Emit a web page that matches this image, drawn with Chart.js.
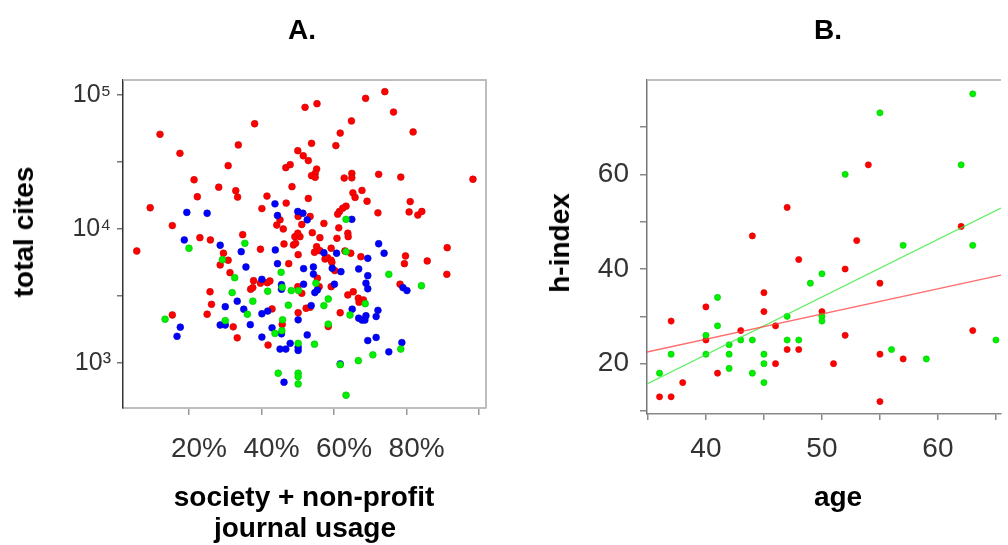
<!DOCTYPE html>
<html>
<head>
<meta charset="utf-8">
<script src="https://cdn.jsdelivr.net/npm/chart.js@4.4.1/dist/chart.umd.min.js"></script>
<style>
  html, body { margin:0; padding:0; background:#fff; overflow:hidden; }
  body { width:1008px; height:545px; position:relative; font-family:"Liberation Sans", Arial, sans-serif; }
  canvas { position:absolute; top:0; }
  #chartA { left:0; }
  #chartB { left:500px; }
  .lbl { position:absolute; font-weight:bold; font-size:28px; line-height:28px; color:#000; white-space:nowrap; transform:translate(-50%,-50%); }
  .rot { transform:translate(-50%,-50%) rotate(-90deg); }
</style>
</head>
<body>
<canvas id="chartA" width="500" height="545"></canvas>
<canvas id="chartB" width="508" height="545"></canvas>
<div class="lbl" style="left:302px;top:30px">A.</div>
<div class="lbl" style="left:828px;top:30px">B.</div>
<div class="lbl rot" style="left:24px;top:232px">total cites</div>
<div class="lbl" style="left:304px;top:497px">society + non-profit</div>
<div class="lbl" style="left:305px;top:528px">journal usage</div>
<div class="lbl rot" style="left:560px;top:243px">h-index</div>
<div class="lbl" style="left:838px;top:497px">age</div>
<script>
// panel A: society + non-profit usage (%) vs total cites, three groups
let usageRed = [52.0,12.0,38.1,17.5,33.6,50.0,51.5,52.9,30.8,46.7,47.9,21.4,28.2,32.9,33.4,22.3,48.4,41.5,52.9,9.3,
    40.1,46.8,15.4,44.2,45.1,46.0,51.1,50.1,34.8,23.0,25.9,49.2,50.6,50.0,74.0,68.7,55.3,76.4,64.8,81.8,
    61.7,53.8,60.5,55.2,54.8,53.8,54.8,62.8,64.9,64.9,72.3,78.4,98.3,67.7,65.2,65.8,69.1,81.0,72.1,80.7,
    83.1,84.2,63.3,62.4,61.5,61.0,53.4,57.2,61.3,54.0,56.1,60.8,63.8,63.9,5.6,29.5,30.8,28.6,31.3,39.7,
    46.2,48.8,49.4,50.1,47.5,37.8,37.0,37.6,39.7,41.6,42.3,50.0,51.1,25.8,26.2,15.4,25.0,42.9,45.7,50.1,
    52.3,32.2,33.3,41.8,55.2,54.6,56.1,57.5,58.2,59.2,59.4,59.2,60.2,63.0,64.6,67.4,79.7,79.4,85.7,91.2,
    91.1,78.2,55.4,55.9,59.2,65.3,63.8,66.7,67.4,68.1,66.9,53.4,61.7,58.4],
    citesRed = [80900,50900,61000,36700,42400,38400,35200,32400,29700,28700,30200,23300,20500,19300,17300,17400,20700,17600,16900,14400,
    14200,15600,10600,10700,11700,10000,10800,12400,9070,8610,8280,8760,8760,9290,105900,94400,86100,74600,64000,53000,
    52000,43600,41900,28000,26000,25000,24300,24000,26000,24100,25600,24400,23500,19400,18600,17200,16100,16000,13200,13400,
    12700,13500,14800,14300,13500,12900,12400,11000,10200,9380,8610,8520,9290,8760,6850,6590,5840,5390,4720,7060,
    7730,7600,7820,6430,5510,4110,3550,3650,3940,3970,4090,3710,3310,3400,2740,2280,2310,2530,1940,2370,
    2560,1860,1540,1360,7380,6700,6890,5970,6110,5840,5640,7180,4890,6850,6590,6210,6290,5510,5770,7250,
    4590,3870,4290,3710,3710,3400,3220,3040,2900,2950,2840,2600,2370,1870],
    usageBlue = [19.4,25.0,43.7,44.4,50.0,51.4,52.6,18.7,64.9,28.6,34.4,43.8,44.4,35.7,51.6,40.1,45.5,45.5,51.6,33.3,
    30.0,35.1,40.1,41.7,50.1,17.6,16.7,28.6,30.0,36.9,42.9,45.5,40.1,52.6,47.9,45.1,46.7,50.1,50.1,46.2,
    72.3,73.8,60.7,57.2,69.3,54.3,54.3,59.5,61.9,66.8,69.3,55.4,54.7,60.1,68.8,69.3,79.0,80.1,53.7,65.0,
    72.1,66.8,67.7,68.5,68.8,71.6,71.6,69.3,78.7,75.1,61.7],
    citesBlue = [13300,13100,15400,12600,13500,13100,11700,8280,11800,7560,6770,6970,5510,5200,5060,4210,3840,3550,3870,2890,
    2630,2520,2330,2440,2100,1850,1580,1920,1920,1930,1830,1650,1560,1620,1400,1270,1270,1310,1240,718,
    7760,6590,6590,6650,6040,5200,4610,5090,4800,5030,4480,3510,3350,3870,3940,3580,3650,3470,2680,2520,
    2470,2160,2090,2090,2250,2220,1550,1470,1420,1210,984],
    usageGreen = [63.3,20.0,35.4,29.2,32.6,45.4,45.7,48.2,50.2,31.9,41.7,37.6,36.1,47.4,30.0,13.4,45.8,45.6,43.7,50.1,
    44.6,50.1,50.1,50.1,63.3,55.0,58.4,57.2,68.6,64.4,75.1,84.1,58.4,54.6,78.4,70.7,66.7,61.7,63.3],
    citesGreen = [11800,7180,7820,5900,4330,4750,3670,3470,3470,3350,3430,2890,2310,2700,2070,2120,2100,1740,1660,1400,
    838,838,790,697,6770,3940,3000,2680,2770,2280,4590,3770,1950,1380,1270,1150,1040,970,574],
    usageTicks = [20,40,60,80,100],
    usageTickLabels = ["20%","40%","60%","80%",""],
    citesTicks = [1000,3162,10000,31623,100000],
    citesTickLabels = ["10\u00b3","","10\u2074","","10\u2075"]

// panel B: age vs h-index, with fitted lines (intercept, slope)
let ageRed = [47,44,54,62,53,48,45,40,45,50,37,46,43,40,47,48,46,41,38,36,37,52,55,52,63,55,57,51,55],
    hRed = [53,47,62,49,46,42,35,32,31,31,29,28,27,25,23,23,20,18,16,13,13,40,37,26,27,22,21,20,12],
    ageGreen = [63,55,52,62,50,49,41,47,50,50,41,40,43,44,47,48,42,37,40,42,45,45,42,36,44,45,57,63,65,56,59],
    hGreen = [77,73,60,62,39,37,34,30,30,29,28,26,25,25,25,25,24,22,22,22,22,20,19,18,18,16,45,45,25,23,21],
    fitRed = [3.87, 0.5326],
    fitGreen = [-26.83, 1.218],
    ageTicks = [35,40,45,50,55,60,65],
    ageTickLabels = ["","40","","50","","60",""],
    hTicks = [10,20,30,40,50,60,70],
    hTickLabels = ["","20","","40","","60",""]

const ageMin = 34.92, ageMax = 65.43

Chart.defaults.font.family = "'Liberation Sans', Arial, sans-serif"
Chart.defaults.color = "#333"

const pts = (xs, ys) => xs.map((x, i) => ({x: x, y: ys[i]}))
const fitLine = (f) => [ageMin, ageMax].map(x => ({x: x, y: f[0] + f[1] * x}))

// light box on top / right like the R plot
const boxLines = {
    id: "boxLines",
    beforeDatasetsDraw(chart, args, opts) {
        const {ctx, chartArea: a} = chart
        ctx.save()
        ctx.strokeStyle = opts.color
        ctx.lineWidth = 2
        ctx.beginPath()
        ctx.moveTo(a.left, a.top)
        ctx.lineTo(a.right, a.top)
        if (opts.right) ctx.lineTo(a.right, a.bottom)
        ctx.stroke()
        ctx.restore()
    }
}

const dot = (c, edge, order, r) => ({
    backgroundColor: c, borderColor: edge, borderWidth: 0.6,
    pointRadius: r, pointHoverRadius: r, order: order
})

new Chart(document.getElementById("chartA"), {
    type: "scatter",
    plugins: [boxLines],
    data: {
        datasets: [
            {data: pts(usageRed, citesRed), ...dot("#ff0000", "#c80000", 3, 3.4)},
            {data: pts(usageBlue, citesBlue), ...dot("#0000ff", "#0000c0", 2, 3.4)},
            {data: pts(usageGreen, citesGreen), ...dot("#00f000", "#00c000", 1, 3.4)}
        ]
    },
    options: {
        responsive: false,
        animation: false,
        layout: {padding: {top: 80, right: 14, left: 0, bottom: 0}},
        plugins: {legend: {display: false}, tooltip: {enabled: false}, boxLines: {color: "#bdbdbd", right: true}},
        scales: {
            x: {
                type: "linear", min: 1.8, max: 101.9,
                afterFit: s => { s.height = 137 },
                afterBuildTicks: s => { s.ticks = usageTicks.map(v => ({value: v})) },
                ticks: {callback: (v, i) => usageTickLabels[i], font: {size: 28}, color: "#333",
                        padding: 17, labelOffset: 10, autoSkip: false, maxRotation: 0},
                grid: {drawOnChartArea: false, drawTicks: true, tickLength: 7, color: "#999", lineWidth: 1.5},
                border: {display: true, color: "#bdbdbd", width: 2}
            },
            y: {
                type: "logarithmic", min: 461, max: 129400,
                afterFit: s => { s.width = 123 },
                afterBuildTicks: s => { s.ticks = citesTicks.map(v => ({value: v})) },
                ticks: {callback: (v, i) => citesTickLabels[i], font: {size: 25}, color: "#333",
                        padding: 6, autoSkip: false},
                grid: {drawOnChartArea: false, drawTicks: true, tickLength: 6, color: "#777", lineWidth: 1.5},
                border: {display: true, color: "#333", width: 1.5}
            }
        }
    }
})

new Chart(document.getElementById("chartB"), {
    type: "scatter",
    plugins: [boxLines],
    data: {
        datasets: [
            {type: "line", data: fitLine(fitRed), borderColor: "rgba(255,60,60,0.75)", borderWidth: 1.3,
             pointRadius: 0, fill: false, order: 0},
            {type: "line", data: fitLine(fitGreen), borderColor: "rgba(60,235,60,0.8)", borderWidth: 1.3,
             pointRadius: 0, fill: false, order: 0},
            {data: pts(ageRed, hRed), ...dot("#ff0000", "#d80000", 2, 3.1)},
            {data: pts(ageGreen, hGreen), ...dot("#00f000", "#00c800", 1, 3.1)}
        ]
    },
    options: {
        responsive: false,
        animation: false,
        layout: {padding: {top: 80, right: 0, left: 0, bottom: 0}},
        plugins: {legend: {display: false}, tooltip: {enabled: false}, boxLines: {color: "#bdbdbd", right: false}},
        scales: {
            x: {
                type: "linear", min: ageMin, max: ageMax,
                afterFit: s => { s.height = 131 },
                afterBuildTicks: s => { s.ticks = ageTicks.map(v => ({value: v})) },
                ticks: {callback: (v, i) => ageTickLabels[i], font: {size: 28}, color: "#333",
                        padding: 12, autoSkip: false, maxRotation: 0},
                grid: {drawOnChartArea: false, drawTicks: true, tickLength: 6, color: "#888", lineWidth: 1.5},
                border: {display: true, color: "#888", width: 1.5}
            },
            y: {
                type: "linear", min: 9.37, max: 79.93,
                afterFit: s => { s.width = 147 },
                afterBuildTicks: s => { s.ticks = hTicks.map(v => ({value: v})) },
                ticks: {callback: (v, i) => hTickLabels[i], font: {size: 28}, color: "#333",
                        padding: 11, autoSkip: false},
                grid: {drawOnChartArea: false, drawTicks: true, tickLength: 7, color: "#888", lineWidth: 1.5},
                border: {display: true, color: "#777", width: 1.5}
            }
        }
    }
})
</script>
</body>
</html>
